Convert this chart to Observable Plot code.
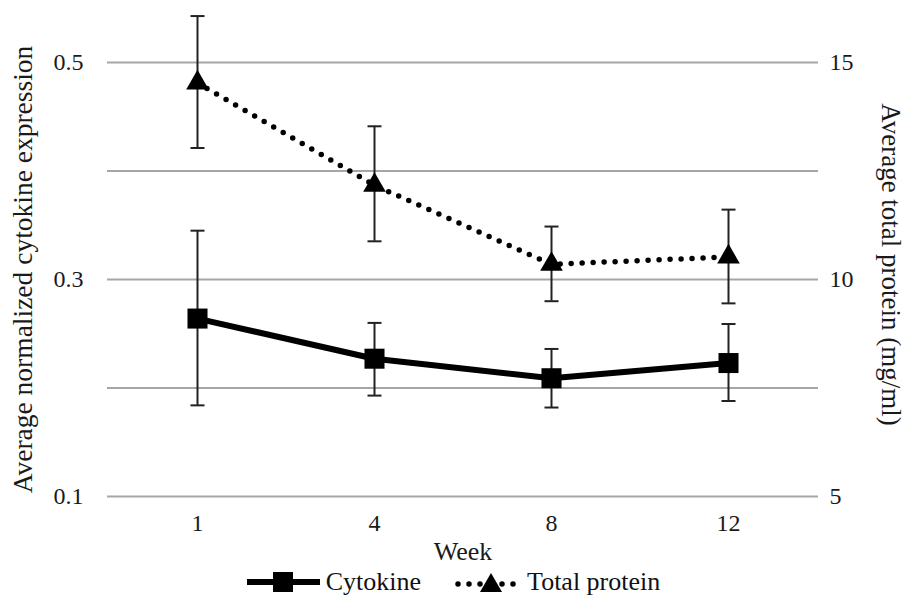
<!DOCTYPE html>
<html><head><meta charset="utf-8">
<script src="https://cdn.jsdelivr.net/npm/d3@7"></script>
<script src="https://cdn.jsdelivr.net/npm/@observablehq/plot@0.6"></script>
<style>
body{margin:0;background:#fff;font-family:"Liberation Serif","Times New Roman",serif;}
#legend{display:flex;justify-content:center;align-items:center;height:40px;font-size:26px;color:#111;margin-top:-13px}
#legend .item{display:flex;align-items:center}
</style></head>
<body><div id="chart"></div><div id="legend"></div>
<script>
const weeks = ["1","4","8","12"];
const cytokine   = [0.264, 0.227, 0.209, 0.223];
const cytokineHi = [0.345, 0.260, 0.236, 0.259];
const cytokineLo = [0.184, 0.193, 0.182, 0.188];
const protein   = [14.53, 12.17, 10.35, 10.52];
const proteinHi = [16.07, 13.53, 11.22, 11.61];
const proteinLo = [13.03, 10.88, 9.50, 9.45];
const leftTicks = [0.1, 0.3, 0.5];
const rightTicks = [5, 10, 15];
const gridLines = [0.1, 0.2, 0.3, 0.4, 0.5];
const seriesNames = ["Cytokine", "Total protein"];
const yLabelLeft = "Average normalized cytokine expression";
const yLabelRight = "Average total protein (mg/ml)";
const xLabel = "Week";

const FONT = '"Liberation Serif","Times New Roman",serif';
// map right-axis (protein) values onto the left scale
const toLeft = p => 0.1 + (p - 5) * 0.04;
const fromLeft = v => 5 + (v - 0.1) / 0.04;

const cyto = weeks.map((w,i)=>({week:w, v:cytokine[i], hi:cytokineHi[i], lo:cytokineLo[i]}));
const prot = weeks.map((w,i)=>({week:w, v:toLeft(protein[i]), hi:toLeft(proteinHi[i]), lo:toLeft(proteinLo[i])}));

const cap = {draw(ctx, size){ const w = Math.sqrt(size); ctx.moveTo(-w,0); ctx.lineTo(w,0); }};
const capR = Math.sqrt(49/Math.PI);

const chart = Plot.plot({
  width: 907, height: 575,
  marginLeft: 107, marginRight: 89, marginTop: 62, marginBottom: 79,
  style: {fontFamily: FONT, fontSize: "24px", color: "#1a1a1a", background: "#fff"},
  x: {type: "point", domain: weeks, padding: 0.5},
  y: {domain: [0.1, 0.5]},
  marks: [
    Plot.ruleY(gridLines, {stroke: "#a6a6a6", strokeWidth: 2}),
    Plot.axisX({tickSize: 0, tickPadding: 17, label: null, fontSize: 24, fontFamily: FONT}),
    Plot.axisY(leftTicks, {anchor: "left", tickSize: 0, tickPadding: 24, label: null, tickFormat: d3.format(".1f"), fontSize: 24, fontFamily: FONT}),
    Plot.axisY(rightTicks.map(toLeft), {anchor: "right", tickSize: 0, tickPadding: 11, label: null, tickFormat: d => Math.round(fromLeft(d)), fontSize: 24, fontFamily: FONT}),
    Plot.text([yLabelLeft], {frameAnchor: "left", textAnchor: "middle", dx: -84, dy: -10, rotate: -90, fontSize: 27.5, fontFamily: FONT, fill: "#1a1a1a"}),
    Plot.text([yLabelRight], {frameAnchor: "right", textAnchor: "middle", dx: 72, dy: -15, rotate: 90, fontSize: 27, fontFamily: FONT, fill: "#1a1a1a"}),
    Plot.text([xLabel], {frameAnchor: "bottom", lineAnchor: "middle", dy: 55, fontSize: 26, fontFamily: FONT, fill: "#1a1a1a"}),
    // error bars
    Plot.ruleX(cyto, {x: "week", y1: "lo", y2: "hi", stroke: "#222", strokeWidth: 2}),
    Plot.ruleX(prot, {x: "week", y1: "lo", y2: "hi", stroke: "#222", strokeWidth: 2}),
    Plot.dot(cyto, {x: "week", y: "hi", symbol: cap, r: capR, stroke: "#222", strokeWidth: 2, fill: "none"}),
    Plot.dot(cyto, {x: "week", y: "lo", symbol: cap, r: capR, stroke: "#222", strokeWidth: 2, fill: "none"}),
    Plot.dot(prot, {x: "week", y: "hi", symbol: cap, r: capR, stroke: "#222", strokeWidth: 2, fill: "none"}),
    Plot.dot(prot, {x: "week", y: "lo", symbol: cap, r: capR, stroke: "#222", strokeWidth: 2, fill: "none"}),
    // lines
    Plot.line(cyto, {x: "week", y: "v", stroke: "#000", strokeWidth: 6}),
    Plot.line(prot, {x: "week", y: "v", stroke: "#000", strokeWidth: 5.5, strokeDasharray: "0 11", strokeLinecap: "round"}),
    Plot.dot(cyto, {x: "week", y: "v", symbol: "square", r: 11.3, fill: "#000", stroke: "none"}),
    Plot.dot(prot, {x: "week", y: "v", symbol: "triangle", r: 8.4, fill: "#000", stroke: "none"})
  ]
});
document.getElementById("chart").appendChild(chart);

// legend
const lg = document.getElementById("legend");
lg.innerHTML = `
<div class="item"><svg width="73" height="24"><line x1="0" y1="12" x2="73" y2="12" stroke="#000" stroke-width="6"/><rect x="26" y="2" width="20" height="20" fill="#000"/></svg><span style="margin-left:6px">${seriesNames[0]}</span></div>
<div class="item" style="margin-left:34px"><svg width="66" height="24"><line x1="3" y1="14" x2="63" y2="14" stroke="#000" stroke-width="5.5" stroke-dasharray="0 11" stroke-linecap="round"/><polygon points="36,3 47,22 25,22" fill="#000"/></svg><span style="margin-left:6px">${seriesNames[1]}</span></div>`;
</script>
</body></html>
